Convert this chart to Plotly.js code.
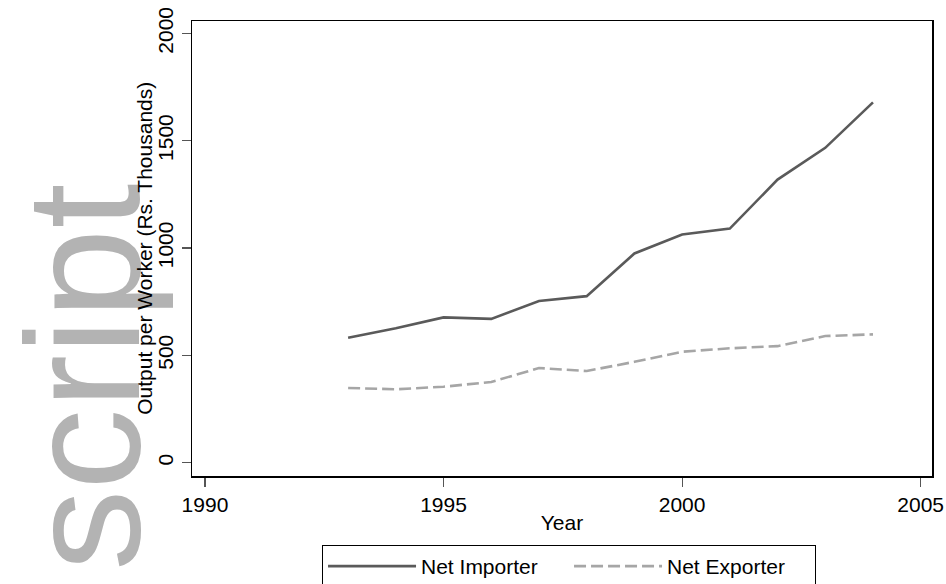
<!DOCTYPE html>
<html>
<head>
<meta charset="utf-8">
<script src="https://cdn.plot.ly/plotly-3.0.1.min.js"></script>
<style>html,body{margin:0;padding:0;background:#fff}#chart{width:946px;height:584px}</style>
</head>
<body>
<div id="chart"></div>
<script>
var years = [1993, 1994, 1995, 1996, 1997, 1998, 1999, 2000, 2001, 2002, 2003, 2004];
var netImporter = [582, 626, 677, 670, 753, 776, 975, 1063, 1091, 1319, 1467, 1679];
var netExporter = [348, 342, 354, 376, 441, 427, 470, 517, 533, 543, 590, 598];
var xTicks = [1990, 1995, 2000, 2005];
var yTicks = [0, 500, 1000, 1500, 2000];
var seriesNames = ["Net Importer", "Net Exporter"];
var xTitle = "Year";
var yTitle = "Output per Worker (Rs. Thousands)";
var watermark = "script";

var FONT = "Liberation Sans, Arial, Helvetica, sans-serif";

var traces = [
  {x: years, y: netImporter, name: seriesNames[0], type: "scatter", mode: "lines",
   line: {color: "#5a5a5a", width: 2.6}},
  {x: years, y: netExporter, name: seriesNames[1], type: "scatter", mode: "lines",
   line: {color: "#a6a6a6", width: 2.6, dash: "12px,5px"}}
];

var layout = {
  width: 946, height: 584,
  margin: {l: 192, r: 14, t: 21, b: 108, pad: 0, autoexpand: false},
  paper_bgcolor: "#ffffff", plot_bgcolor: "#ffffff",
  font: {family: FONT, size: 21, color: "#000"},
  showlegend: true,
  xaxis: {
    range: [1989.728, 2005.237],
    tickvals: xTicks, ticktext: xTicks.map(String),
    ticks: "outside", ticklen: 9, tickwidth: 1.2, tickcolor: "#555",
    showline: true, linecolor: "#000", linewidth: 1.5, mirror: true,
    showgrid: false, zeroline: false,
    tickfont: {size: 21},
    title: {text: xTitle, font: {size: 21}, standoff: 0}
  },
  yaxis: {
    range: [-62, 2058],
    tickvals: yTicks, ticktext: yTicks.map(String),
    tickangle: -90,
    ticks: "outside", ticklen: 9, tickwidth: 1.2, tickcolor: "#555",
    showline: true, linecolor: "#000", linewidth: 1.5, mirror: true,
    showgrid: false, zeroline: false,
    tickfont: {size: 21}
  },
  legend: {
    orientation: "h",
    x: 0.5095, xanchor: "center",
    y: -0.1516, yanchor: "top",
    bordercolor: "#000", borderwidth: 1,
    bgcolor: "#fff",
    itemwidth: 88,
    entrywidth: 143,
    font: {size: 21},
    traceorder: "normal"
  },
  annotations: [
    {text: watermark, xref: "paper", yref: "paper", x: -0.1475, y: 0.218,
     xanchor: "center", yanchor: "middle", textangle: -90, showarrow: false,
     font: {family: FONT, size: 162, color: "#b3b3b3"}},
    {text: yTitle, xref: "paper", yref: "paper", x: -0.0645, y: 0.5,
     xanchor: "center", yanchor: "middle", textangle: -90, showarrow: false,
     font: {family: FONT, size: 21, color: "#000"}}
  ]
};

Plotly.newPlot("chart", traces, layout, {displayModeBar: false, staticPlot: true});
</script>
</body>
</html>
